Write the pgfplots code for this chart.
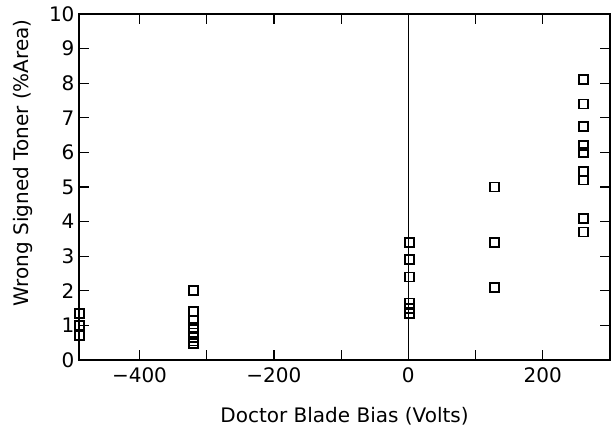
\documentclass[border=0pt]{standalone}
\usepackage{pgfplots}
\pgfplotsset{compat=1.18}
\usepackage{fontspec}
\setmainfont{DejaVu Sans}
\begin{document}
\begin{tikzpicture}
\begin{axis}[
  name=ax,
  scale only axis,
  width=531pt, height=346pt,
  xmin=-490, xmax=300, ymin=0, ymax=10,
  axis line style={line width=1.8pt},
  tick style={black, line width=1.2pt},
  major tick length=10pt,
  tick align=inside,
  xtick={-400,-300,-200,-100,0,100,200},
  xticklabels={−400,,−200,,0,,200},
  ytick={0,1,...,10},
  yticklabels={0,1,2,3,4,5,6,7,8,9,10},
  tick label style={font=\fontsize{20}{24}\selectfont},
  xticklabel style={yshift=-4pt},
  yticklabel style={xshift=-1pt},
  xlabel={Doctor Blade Bias (Volts)},
  ylabel={Wrong Signed Toner (\%Area)},
  label style={font=\fontsize{20}{24}\selectfont},
  xlabel style={yshift=-18pt},
  ylabel style={at={(axis description cs:-0.08,0.57)}},
]
\addplot[black, line width=0.9pt] coordinates {(0,0) (0,10)};
\addplot[only marks, mark=square, mark size=4.5pt, mark options={line width=1.8pt, black}] coordinates {
(-489,1.35) (-489,1.0) (-489,0.7)
(-320,2.0) (-320,1.4) (-320,1.15) (-320,0.95) (-320,0.78) (-320,0.65) (-320,0.55) (-320,0.48)
(2,3.4) (2,2.9) (2,2.4) (2,1.65) (2,1.5) (2,1.35)
(128,5.0) (128,3.4) (128,2.1)
(260,8.1) (260,7.4) (260,6.75) (260,6.2) (260,6.0) (260,5.45) (260,5.2) (260,4.1) (260,3.7)
};
\end{axis}
\pgfresetboundingbox
\path ([xshift=-79pt,yshift=-77pt]ax.south west) rectangle ([xshift=5pt,yshift=14pt]ax.north east);
\end{tikzpicture}
\end{document}
